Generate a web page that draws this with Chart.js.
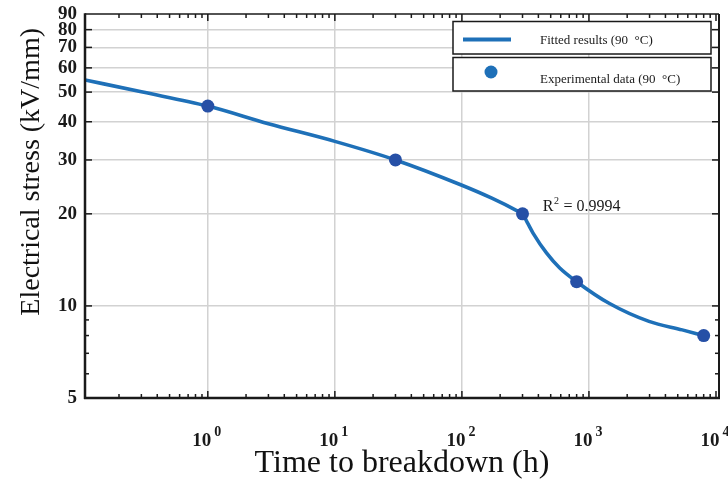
<!DOCTYPE html>
<html>
<head>
<meta charset="utf-8">
<script src="https://cdn.jsdelivr.net/npm/chart.js@4.4.1/dist/chart.umd.min.js"></script>
<style>
html,body{margin:0;padding:0;background:#ffffff;}
#wrap{width:728px;height:482px;position:relative;}
</style>
</head>
<body>
<div id="wrap"><canvas id="c" width="728" height="482"></canvas></div>
<script>
// ---- data ----
const fitTimes  = [0.108, 0.3, 1, 3, 10, 30, 100, 172, 270, 300, 330, 363, 463, 589, 800, 1440, 2970, 5420, 8000];
const fitStress = [54.8, 50.1, 45, 39.4, 34.5, 30, 24.8, 22.5, 20.5, 20, 18.6, 17.3, 14.9, 13.3, 12, 10.2, 8.9, 8.35, 8];
const expTimes  = [1, 30, 300, 800, 8000];
const expStress = [45, 30, 20, 12, 8];
const seriesLabels = ['Fitted results (90  \u00B0C)', 'Experimental data (90  \u00B0C)'];
const yTickValues  = [5, 10, 20, 30, 40, 50, 60, 70, 80, 90];
const yMinorValues = [6, 7, 8, 9];
const yGridValues  = [10, 20, 30, 40, 50, 60, 70, 80];
const xDecades     = [1, 10, 100, 1000, 10000];
const xExponents   = ['0', '1', '2', '3', '4'];
const xMinorMultipliers = [2, 3, 4, 5, 6, 7, 8, 9];
const xTitle = 'Time to breakdown (h)';
const yTitle = 'Electrical stress (kV/mm)';
const r2Value = '0.9994';
const r2Anchor = {x: 433, y: 20.5};

const SERIF = "'Liberation Serif', 'Times New Roman', serif";
const LINE_COLOR = '#1e70b8';
const POINT_COLOR = '#2650a6';
const GRID_COLOR = '#d2d2d2';
const INK = '#1a1a1a';

const decorPlugin = {
  id: 'decor',
  afterDraw(chart) {
    const {ctx, chartArea: a, scales: {x, y}} = chart;
    ctx.save();
    const seg = (x1, y1, x2, y2) => { ctx.beginPath(); ctx.moveTo(x1, y1); ctx.lineTo(x2, y2); ctx.stroke(); };
    ctx.strokeStyle = INK;
    ctx.lineWidth = 1.5;
    // x ticks (inward, bottom and top)
    xDecades.forEach(v => {
      const p = x.getPixelForValue(v);
      if (p > a.left + 1 && p < a.right - 1) { seg(p, a.bottom, p, a.bottom - 7); seg(p, a.top, p, a.top + 7); }
    });
    [0.1].concat(xDecades).forEach(d => {
      xMinorMultipliers.forEach(m => {
        const v = d * m;
        if (v <= x.min || v >= x.max) return;
        const p = x.getPixelForValue(v);
        seg(p, a.bottom, p, a.bottom - 4); seg(p, a.top, p, a.top + 4);
      });
    });
    // y ticks (inward, left and right)
    yTickValues.forEach(v => {
      const p = y.getPixelForValue(v);
      if (p > a.top + 1 && p < a.bottom - 1) { seg(a.left, p, a.left + 7, p); seg(a.right, p, a.right - 7, p); }
    });
    yMinorValues.forEach(v => {
      const p = y.getPixelForValue(v);
      seg(a.left, p, a.left + 4, p); seg(a.right, p, a.right - 4, p);
    });
    // frame
    ctx.lineWidth = 1.5;
    seg(a.left, a.top, a.right, a.top);
    ctx.lineWidth = 2;
    seg(a.right, a.top, a.right, a.bottom + 1);
    ctx.lineWidth = 2.5;
    seg(a.left - 1, a.bottom, a.right + 1, a.bottom);
    seg(a.left, a.top - 0.75, a.left, a.bottom + 1);

    // x tick labels with superscript exponents
    ctx.fillStyle = INK;
    ctx.textBaseline = 'alphabetic';
    xDecades.forEach((v, i) => {
      const p = x.getPixelForValue(v);
      ctx.font = 'bold 19px ' + SERIF;
      const w1 = ctx.measureText('10').width;
      ctx.font = 'bold 14px ' + SERIF;
      const w2 = ctx.measureText(xExponents[i]).width;
      const gap = 3;
      const start = p - 1 - (w1 + gap + w2) / 2;
      ctx.textAlign = 'left';
      ctx.font = 'bold 19px ' + SERIF;
      ctx.fillText('10', start, 446);
      ctx.font = 'bold 14px ' + SERIF;
      ctx.fillText(xExponents[i], start + w1 + gap, 436);
    });

    // legend (two stacked boxes)
    const ds = chart.data.datasets;
    ctx.lineWidth = 1.5;
    ctx.strokeStyle = INK;
    ctx.fillStyle = '#ffffff';
    ctx.fillRect(453, 21.5, 258, 32.5); ctx.strokeRect(453, 21.5, 258, 32.5);
    ctx.fillRect(453, 57.5, 258, 33.5); ctx.strokeRect(453, 57.5, 258, 33.5);
    ctx.strokeStyle = ds[0].borderColor;
    ctx.lineWidth = 4;
    seg(463, 39.5, 511, 39.5);
    ctx.fillStyle = LINE_COLOR;
    ctx.beginPath(); ctx.arc(491, 72, 6.5, 0, Math.PI * 2); ctx.fill();
    ctx.fillStyle = INK;
    ctx.font = '13px ' + SERIF;
    ctx.textAlign = 'left';
    ctx.textBaseline = 'middle';
    ctx.fillText(ds[0].label, 540, 40.5);
    ctx.fillText(ds[1].label, 540, 79.5);

    // R^2 annotation
    const rx = x.getPixelForValue(r2Anchor.x);
    const ry = y.getPixelForValue(r2Anchor.y);
    ctx.textBaseline = 'alphabetic';
    ctx.font = '16px ' + SERIF;
    ctx.fillText('R', rx, ry);
    const wR = ctx.measureText('R').width;
    ctx.font = '10px ' + SERIF;
    ctx.fillText('2', rx + wR + 0.5, ry - 6.5);
    const w2 = ctx.measureText('2').width;
    ctx.font = '16px ' + SERIF;
    ctx.fillText(' = ' + r2Value, rx + wR + w2 + 1, ry);
    ctx.restore();
  }
};

new Chart(document.getElementById('c'), {
  type: 'line',
  data: {
    datasets: [
      {
        label: seriesLabels[0],
        data: fitTimes.map((t, i) => ({x: t, y: fitStress[i]})),
        borderColor: LINE_COLOR,
        borderWidth: 3.6,
        pointRadius: 0,
        cubicInterpolationMode: 'monotone',
        fill: false,
        order: 1
      },
      {
        label: seriesLabels[1],
        data: expTimes.map((t, i) => ({x: t, y: expStress[i]})),
        showLine: false,
        pointRadius: 6.5,
        pointBackgroundColor: POINT_COLOR,
        pointBorderColor: POINT_COLOR,
        pointBorderWidth: 0,
        borderColor: POINT_COLOR,
        order: 0
      }
    ]
  },
  options: {
    responsive: false,
    animation: false,
    devicePixelRatio: 1,
    layout: {padding: {left: 0, right: 9, top: 14, bottom: 0}},
    plugins: {legend: {display: false}, tooltip: {enabled: false}},
    scales: {
      x: {
        type: 'logarithmic',
        position: 'bottom',
        min: 0.108,
        max: 10560,
        afterBuildTicks: (s) => { s.ticks = xDecades.map(v => ({value: v})); },
        afterFit: (s) => { s.height = 84; s.paddingLeft = 0; s.paddingRight = 0; },
        ticks: {display: false},
        grid: {
          drawTicks: false,
          lineWidth: 1.5,
          color: (c) => (c.tick && c.tick.value < 10000) ? GRID_COLOR : 'rgba(0,0,0,0)'
        },
        border: {display: false},
        title: {
          display: true,
          text: xTitle,
          color: '#111111',
          font: {family: SERIF, size: 32, lineHeight: 1},
          padding: {top: 0, bottom: 2}
        }
      },
      y: {
        type: 'logarithmic',
        min: 5,
        max: 90,
        afterBuildTicks: (s) => { s.ticks = yTickValues.concat(yMinorValues).sort((a, b) => a - b).map(v => ({value: v})); },
        afterFit: (s) => { s.width = 85; s.paddingTop = 0; s.paddingBottom = 0; },
        ticks: {
          autoSkip: false,
          padding: 8,
          color: INK,
          font: {family: SERIF, size: 19, weight: 'bold', lineHeight: 1},
          callback: (v) => yTickValues.includes(v) ? String(v) : ''
        },
        grid: {
          drawTicks: false,
          lineWidth: 1.5,
          color: (c) => (c.tick && yGridValues.includes(c.tick.value)) ? GRID_COLOR : 'rgba(0,0,0,0)'
        },
        border: {display: false},
        title: {
          display: true,
          align: 'end',
          text: yTitle + '  ',
          color: '#111111',
          font: {family: SERIF, size: 28, lineHeight: 1},
          padding: {top: 18, bottom: 0}
        }
      }
    }
  },
  plugins: [decorPlugin]
});
</script>
</body>
</html>
